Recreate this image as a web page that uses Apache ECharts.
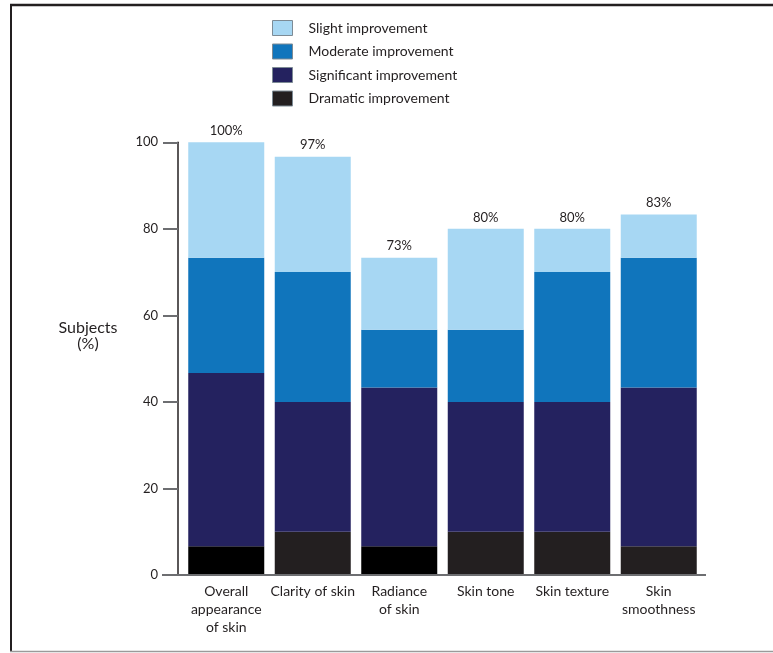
<!DOCTYPE html>
<html>
<head>
<meta charset="utf-8">
<script src="https://cdn.jsdelivr.net/npm/echarts@6/dist/echarts.min.js"></script>
<style>
html,body{margin:0;padding:0;background:#fff;}
#main{width:773px;height:653px;}
</style>
</head>
<body>
<div id="main"></div>
<script>
const categories = ['Overall\nappearance\nof skin', 'Clarity of skin', 'Radiance\nof skin', 'Skin tone', 'Skin texture', 'Skin\nsmoothness'];
const dramatic    = [6.67, 10, 6.67, 10, 10, 6.67];
const significant = [40, 30, 36.67, 30, 30, 36.67];
const moderate    = [26.67, 30, 13.33, 16.67, 30, 30];
const slight      = [26.66, 26.67, 16.67, 23.33, 10, 10];
const totalLabels = ['100%', '97%', '73%', '80%', '80%', '83%'];
const seriesNames = ['Dramatic improvement', 'Significant improvement', 'Moderate improvement', 'Slight improvement'];
const yTicks = [0, 20, 40, 60, 80, 100];

const FONT = 'Lato, "Open Sans", sans-serif';
const TEXT = '#231f20';
const GRID = {left: 183, top: 142.3, width: 519, height: 432.7};

const chart = echarts.init(document.getElementById('main'), null, {renderer: 'canvas'});

const colors = ['#231f20', '#24225f', '#1075bc', '#a7d7f3'];
const values = [dramatic, significant, moderate, slight];
const pureBlack = [0, 2];

const series = values.map((arr, i) => ({
  name: seriesNames[i],
  type: 'bar',
  stack: 'total',
  barWidth: 76,
  data: i === 0 ? arr.map((v, j) => pureBlack.indexOf(j) >= 0 ? {value: v, itemStyle: {color: '#000000'}} : v) : arr,
  itemStyle: {color: colors[i]},
  label: i === 3 ? {
    show: true,
    position: 'top',
    distance: 5,
    formatter: p => totalLabels[p.dataIndex],
    fontFamily: FONT,
    fontSize: 13,
    color: TEXT
  } : {show: false},
  emphasis: {disabled: true}
}));

chart.setOption({
  animation: false,
  backgroundColor: '#ffffff',
  textStyle: {fontFamily: FONT},
  legend: {
    orient: 'vertical',
    left: 272,
    top: 20,
    padding: 0,
    itemWidth: 20,
    itemHeight: 15,
    itemGap: 7.5,
    icon: 'rect',
    data: ['Slight improvement', 'Moderate improvement', 'Significant improvement', 'Dramatic improvement'],
    itemStyle: {borderColor: '#7d8b95', borderWidth: 1},
    textStyle: {fontFamily: FONT, fontSize: 14, color: TEXT, padding: [0, 0, 0, 11], lineHeight: 15}
  },
  grid: {left: GRID.left, top: GRID.top, width: GRID.width, height: GRID.height, containLabel: false},
  xAxis: {
    type: 'category',
    data: categories,
    axisLine: {show: false},
    axisTick: {show: false},
    axisLabel: {
      fontFamily: FONT, fontSize: 14, color: TEXT, lineHeight: 18, margin: 7, interval: 0, align: 'center'
    }
  },
  yAxis: {
    type: 'value',
    min: 0,
    max: 100,
    interval: 20,
    offset: 5,
    axisLine: {show: true, lineStyle: {color: TEXT, width: 1.5}},
    axisTick: {show: true, length: 15, lineStyle: {color: '#6d6e71', width: 2}},
    splitLine: {show: false},
    axisLabel: {
      fontFamily: FONT, fontSize: 13, color: TEXT, margin: 20,
      formatter: v => yTicks.indexOf(v) >= 0 ? String(v) : ''
    }
  },
  graphic: [
    {type: 'line', shape: {x1: 10, y1: 5, x2: 773, y2: 5}, style: {stroke: '#231f20', lineWidth: 2.5}, z: 10},
    {type: 'line', shape: {x1: 11, y1: 4, x2: 11, y2: 652}, style: {stroke: '#231f20', lineWidth: 2}, z: 10},
    {type: 'line', shape: {x1: 10, y1: 651.5, x2: 773, y2: 651.5}, style: {stroke: '#9a9a9a', lineWidth: 1.5}, z: 10},
    {type: 'line', shape: {x1: 162, y1: GRID.top + GRID.height, x2: 706, y2: GRID.top + GRID.height}, style: {stroke: '#6d6e71', lineWidth: 2}, z: 10},
    {type: 'text', x: 88, y: 320, style: {text: 'Subjects\n(%)', fontFamily: FONT, fontSize: 16, lineHeight: 16, fill: TEXT, align: 'center', verticalAlign: 'top'}, z: 10}
  ],
  series: series
});
</script>
</body>
</html>
